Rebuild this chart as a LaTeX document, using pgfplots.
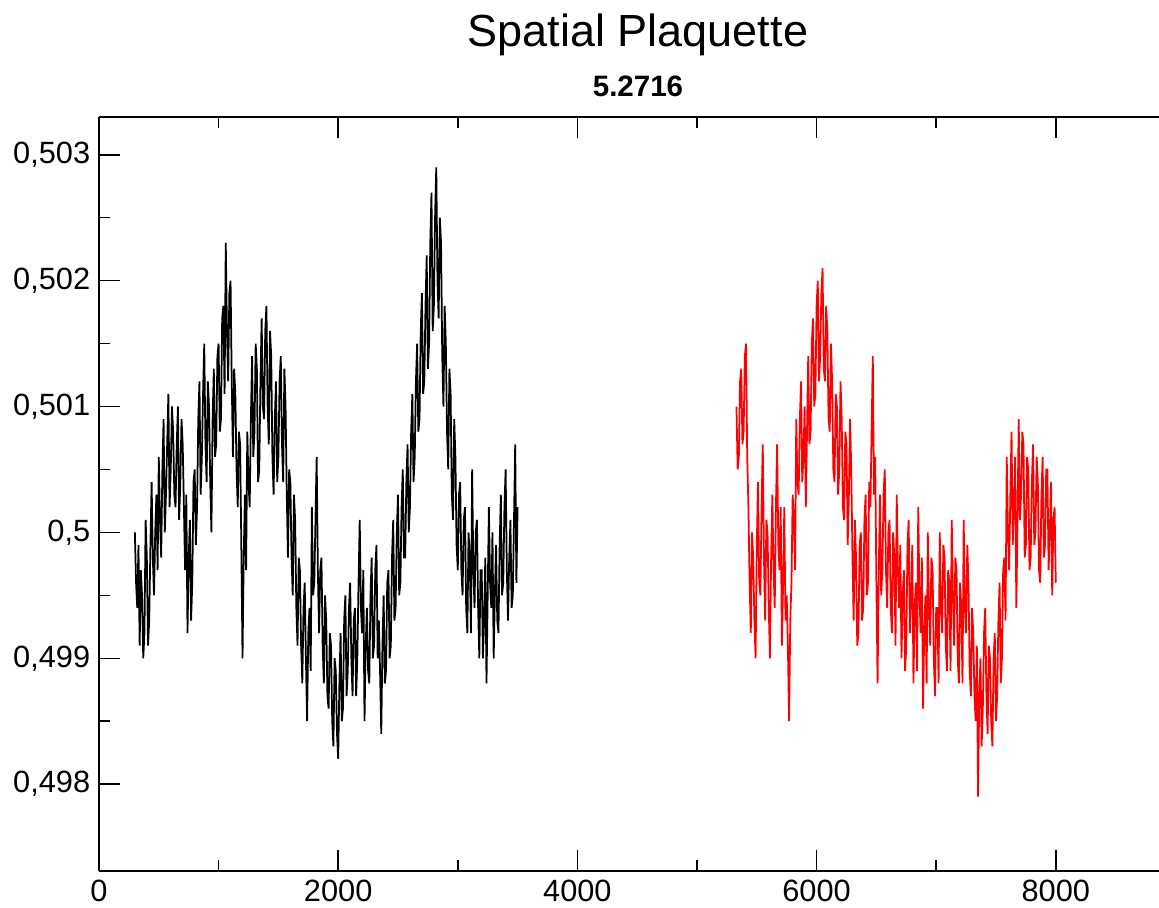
\documentclass[border=0pt]{standalone}
\usepackage{pgfplots}
\pgfplotsset{compat=1.18}
\usepackage{fontspec}
\setmainfont{Liberation Sans}

\begin{document}
\begin{tikzpicture}
\begin{axis}[
    scale only axis,
    width=424pt, height=301.6pt,
    xmin=0, xmax=8863,
    ymin=0.49731, ymax=0.50330,
    axis y line*=left,
    axis line style={line width=0.8pt},
    xtick={0,2000,4000,6000,8000},
    minor x tick num=1,
    ytick={0.498,0.499,0.5,0.501,0.502,0.503},
    minor y tick num=1,
    major tick length=8.4pt,
    minor tick length=4.4pt,
    tick style={line width=0.6pt, black},
    tick align=inside,
    xtick pos=both,
    /pgf/number format/assume math mode=true,
    ticklabel style={font=\fontsize{12.3}{14}\selectfont},
    x tick label style={/pgf/number format/1000 sep={}},
    y tick label style={/pgf/number format/.cd, use comma, fixed, precision=3},
    scaled y ticks=false,
]
\addplot[black, line width=0.7pt] table {
x y
300 0.5000
310 0.4996
320 0.4994
330 0.4999
340 0.4991
350 0.4997
360 0.4995
370 0.4990
380 0.4992
390 0.5001
400 0.4998
410 0.4991
420 0.4993
430 0.4999
440 0.5004
450 0.4998
460 0.4995
470 0.5000
480 0.5003
490 0.4997
500 0.5006
510 0.5001
520 0.4998
530 0.5005
540 0.5009
550 0.5000
560 0.5003
570 0.5007
580 0.5011
590 0.5002
600 0.5005
610 0.5010
620 0.5008
630 0.5003
640 0.5002
650 0.5007
660 0.5010
670 0.5001
680 0.5004
690 0.5009
700 0.5007
710 0.5002
720 0.4997
730 0.5003
740 0.4992
750 0.4998
760 0.5001
770 0.4993
780 0.4996
790 0.5004
800 0.5005
810 0.4999
820 0.5002
830 0.5009
840 0.5012
850 0.5003
860 0.5006
870 0.5011
880 0.5015
890 0.5007
900 0.5004
910 0.5012
920 0.5010
930 0.5004
940 0.5000
950 0.5009
960 0.5013
970 0.5006
980 0.5007
990 0.5014
1000 0.5015
1010 0.5008
1020 0.5009
1030 0.5017
1040 0.5018
1050 0.5011
1060 0.5023
1070 0.5016
1080 0.5012
1090 0.5019
1100 0.5020
1110 0.5012
1120 0.5006
1130 0.5013
1140 0.5011
1150 0.5005
1160 0.5002
1170 0.5008
1180 0.5007
1190 0.4999
1200 0.4990
1210 0.4998
1220 0.5003
1230 0.4997
1240 0.5008
1250 0.5004
1260 0.5002
1270 0.5009
1280 0.5014
1290 0.5006
1300 0.5008
1310 0.5015
1320 0.5013
1330 0.5004
1340 0.5005
1350 0.5012
1360 0.5017
1370 0.5010
1380 0.5009
1390 0.5016
1400 0.5018
1410 0.5010
1420 0.5007
1430 0.5016
1440 0.5014
1450 0.5006
1460 0.5003
1470 0.5009
1480 0.5012
1490 0.5004
1500 0.5006
1510 0.5012
1520 0.5014
1530 0.5007
1540 0.5004
1550 0.5013
1560 0.5010
1570 0.5003
1580 0.4998
1590 0.5005
1600 0.5004
1610 0.4998
1620 0.4995
1630 0.5003
1640 0.5001
1650 0.4994
1660 0.4991
1670 0.4998
1680 0.4997
1690 0.4991
1700 0.4988
1710 0.4994
1720 0.4996
1730 0.4990
1740 0.4985
1750 0.4992
1760 0.4994
1770 0.4989
1780 0.5002
1790 0.4995
1800 0.4996
1810 0.5001
1820 0.5006
1830 0.4997
1840 0.4992
1850 0.4997
1860 0.4998
1870 0.4991
1880 0.4988
1890 0.4995
1900 0.4993
1910 0.4987
1920 0.4986
1930 0.4992
1940 0.4991
1950 0.4985
1960 0.4983
1970 0.4990
1980 0.4989
1990 0.4984
2000 0.4982
2010 0.4988
2020 0.4992
2030 0.4985
2040 0.4986
2050 0.4993
2060 0.4995
2070 0.4987
2080 0.4989
2090 0.4994
2100 0.4996
2110 0.4990
2120 0.4987
2130 0.4993
2140 0.4994
2150 0.4987
2160 0.4990
2170 0.4996
2180 0.5001
2190 0.4994
2200 0.4992
2210 0.4997
2220 0.4985
2230 0.4991
2240 0.4994
2250 0.4989
2260 0.4988
2270 0.4995
2280 0.4998
2290 0.4990
2300 0.4991
2310 0.4997
2320 0.4999
2330 0.4990
2340 0.4993
2350 0.4989
2360 0.4984
2370 0.4991
2380 0.4995
2390 0.4988
2400 0.4989
2410 0.4996
2420 0.4997
2430 0.4990
2440 0.4991
2450 0.4998
2460 0.5001
2470 0.4993
2480 0.4994
2490 0.5000
2500 0.5003
2510 0.4995
2520 0.4996
2530 0.5002
2540 0.5005
2550 0.4998
2560 0.4998
2570 0.5004
2580 0.5007
2590 0.5000
2600 0.5002
2610 0.5008
2620 0.5011
2630 0.5004
2640 0.5006
2650 0.5012
2660 0.5015
2670 0.5008
2680 0.5009
2690 0.5016
2700 0.5019
2710 0.5011
2720 0.5012
2730 0.5018
2740 0.5022
2750 0.5013
2760 0.5015
2770 0.5023
2780 0.5027
2790 0.5016
2800 0.5018
2810 0.5025
2820 0.5029
2830 0.5020
2840 0.5017
2850 0.5025
2860 0.5023
2870 0.5014
2880 0.5010
2890 0.5018
2900 0.5015
2910 0.5008
2920 0.5005
2930 0.5013
2940 0.5011
2950 0.5003
2960 0.5001
2970 0.5009
2980 0.5006
2990 0.4999
3000 0.4997
3010 0.5003
3020 0.5004
3030 0.4997
3040 0.4995
3050 0.5001
3060 0.5002
3070 0.4994
3080 0.4992
3090 0.5000
3100 0.4998
3110 0.4992
3120 0.5005
3130 0.4997
3140 0.4994
3150 0.5000
3160 0.5001
3170 0.4994
3180 0.4990
3190 0.4997
3200 0.4997
3210 0.4990
3220 0.4993
3230 0.4998
3240 0.4988
3250 0.4995
3260 0.5002
3270 0.4996
3280 0.4994
3290 0.5000
3300 0.4990
3310 0.4995
3320 0.4999
3330 0.4993
3340 0.4992
3350 0.4999
3360 0.5003
3370 0.4995
3380 0.4996
3390 0.5002
3400 0.5005
3410 0.4997
3420 0.4993
3430 0.4998
3440 0.5001
3450 0.4994
3460 0.4995
3470 0.5001
3480 0.5007
3490 0.4996
3500 0.5002
};
\addplot[red, line width=0.7pt] table {
x y
5330 0.5010
5340 0.5005
5350 0.5006
5360 0.5012
5370 0.5013
5380 0.5007
5390 0.5008
5400 0.5014
5410 0.5015
5420 0.5006
5430 0.5002
5440 0.4996
5450 0.4992
5460 0.5000
5470 0.4998
5480 0.4993
5490 0.4990
5500 0.4999
5510 0.5004
5520 0.4996
5530 0.4995
5540 0.5002
5550 0.5007
5560 0.4998
5570 0.4993
5580 0.5001
5590 0.5000
5600 0.4994
5610 0.4990
5620 0.4998
5630 0.5003
5640 0.4997
5650 0.4994
5660 0.5002
5670 0.5007
5680 0.4999
5690 0.4997
5700 0.5002
5710 0.4991
5720 0.4996
5730 0.5002
5740 0.4993
5750 0.4995
5760 0.4991
5770 0.4985
5780 0.4993
5790 0.4996
5800 0.5003
5810 0.5001
5820 0.4997
5830 0.5009
5840 0.5004
5850 0.5003
5860 0.5009
5870 0.5012
5880 0.5004
5890 0.5006
5900 0.5010
5910 0.5002
5920 0.5008
5930 0.5014
5940 0.5007
5950 0.5008
5960 0.5015
5970 0.5017
5980 0.5010
5990 0.5011
6000 0.5018
6010 0.5020
6020 0.5012
6030 0.5014
6040 0.5019
6050 0.5021
6060 0.5013
6070 0.5012
6080 0.5018
6090 0.5016
6100 0.5009
6110 0.5008
6120 0.5015
6130 0.5012
6140 0.5005
6150 0.5004
6160 0.5011
6170 0.5010
6180 0.5003
6190 0.5005
6200 0.5012
6210 0.5009
6220 0.5002
6230 0.5001
6240 0.5008
6250 0.5007
6260 0.4999
6270 0.5003
6280 0.5009
6290 0.5005
6300 0.4998
6310 0.4993
6320 0.5001
6330 0.4998
6340 0.4991
6350 0.4992
6360 0.4999
6370 0.5000
6380 0.4993
6390 0.4994
6400 0.5001
6410 0.5003
6420 0.4995
6430 0.4996
6440 0.5004
6450 0.5002
6460 0.5008
6470 0.5014
6480 0.5003
6490 0.5006
6500 0.4996
6510 0.4988
6520 0.4997
6530 0.5003
6540 0.4995
6550 0.4997
6560 0.5003
6570 0.5005
6580 0.4997
6590 0.4994
6600 0.5000
6610 0.5001
6620 0.4994
6630 0.4992
6640 0.5000
6650 0.4998
6660 0.4991
6670 0.5003
6680 0.4997
6690 0.4994
6700 0.4999
6710 0.4990
6720 0.4995
6730 0.4997
6740 0.4989
6750 0.4991
6760 0.4999
6770 0.5001
6780 0.4992
6790 0.4995
6800 0.4999
6810 0.4988
6820 0.4994
6830 0.4996
6840 0.4989
6850 0.5002
6860 0.4995
6870 0.4992
6880 0.4998
6890 0.4986
6900 0.4992
6910 0.4995
6920 0.4988
6930 0.5000
6940 0.4994
6950 0.4991
6960 0.4998
6970 0.4997
6980 0.4990
6990 0.4987
7000 0.4994
7010 0.4994
7020 0.4988
7030 0.5000
7040 0.4994
7050 0.4992
7060 0.4999
7070 0.4998
7080 0.4991
7090 0.4989
7100 0.4997
7110 0.4996
7120 0.4989
7130 0.5001
7140 0.4995
7150 0.4991
7160 0.4998
7170 0.4997
7180 0.4990
7190 0.4988
7200 0.4996
7210 0.4994
7220 0.4988
7230 0.5001
7240 0.4994
7250 0.4992
7260 0.4999
7270 0.4996
7280 0.4989
7290 0.4987
7300 0.4994
7310 0.4992
7320 0.4987
7330 0.4985
7340 0.4991
7350 0.4979
7360 0.4987
7370 0.4990
7380 0.4983
7390 0.4986
7400 0.4992
7410 0.4994
7420 0.4987
7430 0.4984
7440 0.4991
7450 0.4990
7460 0.4985
7470 0.4983
7480 0.4990
7490 0.4992
7500 0.4985
7510 0.4987
7520 0.4993
7530 0.4996
7540 0.4988
7550 0.4990
7560 0.4997
7570 0.4998
7580 0.4993
7590 0.5006
7600 0.5000
7610 0.4997
7620 0.5003
7630 0.5008
7640 0.4999
7650 0.5002
7660 0.5006
7670 0.4994
7680 0.5001
7690 0.5009
7700 0.5001
7710 0.5003
7720 0.5008
7730 0.5007
7740 0.4998
7750 0.4999
7760 0.5006
7770 0.5005
7780 0.4997
7790 0.4998
7800 0.5004
7810 0.5007
7820 0.4999
7830 0.5000
7840 0.5006
7850 0.5004
7860 0.4997
7870 0.4996
7880 0.5003
7890 0.5006
7900 0.4998
7910 0.4999
7920 0.5005
7930 0.5005
7940 0.4997
7950 0.5000
7960 0.5004
7970 0.4995
7980 0.5001
7990 0.5002
8000 0.4996
};
\end{axis}
% titles, centred over the full graph viewport
\node[anchor=base, font=\fontsize{18}{21}\selectfont]
  at ([shift={(215.6pt,28pt)}]current axis.north west) {Spatial Plaquette};
\node[anchor=base, font=\fontsize{11.8}{13}\selectfont\bfseries]
  at ([shift={(215.6pt,8pt)}]current axis.north west) {5.2716};
\pgfresetboundingbox
\path[use as bounding box]
  ([shift={(-39.6pt,-14.4pt)}]current axis.south west) rectangle
  ([shift={(0pt,46.8pt)}]current axis.north east);
\end{tikzpicture}
\end{document}
